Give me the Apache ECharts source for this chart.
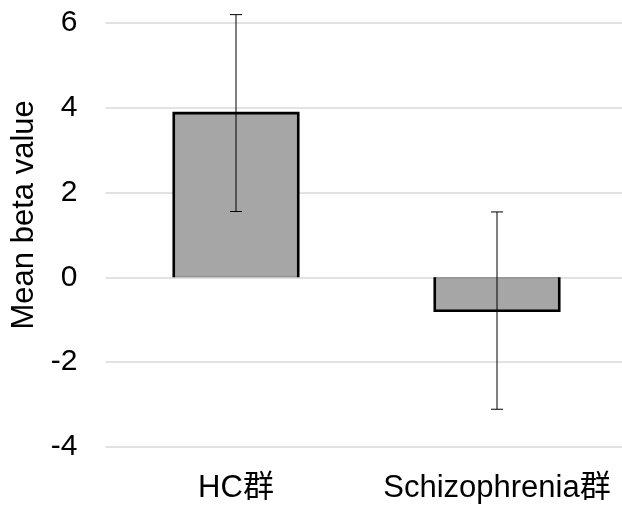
<!DOCTYPE html>
<html>
<head>
<meta charset="utf-8">
<script src="https://cdn.jsdelivr.net/npm/echarts@6/dist/echarts.min.js"></script>
<style>html,body{margin:0;padding:0;background:#fff}#c{width:622px;height:506px}</style>
</head>
<body>
<div id="c"></div>
<script>
const categories = ['HC群', 'Schizophrenia群'];
const means = [3.87, -0.79];
const errLow = [1.55, -3.11];
const errHigh = [6.19, 1.54];
const yTicks = [-4, -2, 0, 2, 4, 6];

const FONT = '"Liberation Sans", Arial, "Noto Sans CJK JP", sans-serif';
const BAR_FRAC = 0.477;

const chart = echarts.init(document.getElementById('c'), null, {renderer: 'canvas'});
chart.setOption({
  animation: false,
  backgroundColor: '#fff',
  grid: {left: 105.5, right: -5.5, top: 22.7, bottom: 59, containLabel: false, outerBoundsMode: 'none'},
  xAxis: {
    type: 'category',
    data: categories,
    axisLine: {show: false},
    axisTick: {show: false},
    axisLabel: {color: '#000', fontSize: 31, fontFamily: FONT, margin: 26, interval: 0, hideOverlap: false}
  },
  yAxis: {
    type: 'value',
    min: yTicks[0], max: yTicks[yTicks.length - 1], interval: 2,
    name: 'Mean beta value',
    nameLocation: 'middle',
    nameRotate: 90,
    nameGap: 66,
    nameTextStyle: {color: '#000', fontSize: 31, fontFamily: FONT, padding: [0, 0, 0, 40]},
    axisLine: {show: false},
    axisTick: {show: false},
    axisLabel: {color: '#000', fontSize: 30, fontFamily: FONT, margin: 28},
    splitLine: {show: true, lineStyle: {color: '#d9d9d9', width: 1.5}}
  },
  series: [
    {
      type: 'bar',
      data: means,
      barWidth: (BAR_FRAC * 100) + '%',
      itemStyle: {color: '#a6a6a6', borderColor: '#7f7f7f', borderWidth: 1},
      z: 2
    },
    {
      type: 'custom',
      data: means.map((v, i) => [i, v]),
      z: 3,
      renderItem: function (params, api) {
        const i = api.value(0), v = api.value(1);
        const base = api.coord([i, 0]);
        const top = api.coord([i, v]);
        const half = api.size([1, 0])[0] * BAR_FRAC / 2;
        const x = base[0];
        return {
          type: 'polyline',
          shape: {points: [[x - half, base[1]], [x - half, top[1]], [x + half, top[1]], [x + half, base[1]]]},
          style: {stroke: '#000', lineWidth: 2.6, fill: null, lineJoin: 'miter'}
        };
      }
    },
    {
      type: 'custom',
      data: errLow.map((lo, i) => [i, lo, errHigh[i]]),
      z: 4,
      renderItem: function (params, api) {
        const i = api.value(0);
        const lo = api.coord([i, api.value(1)]);
        const hi = api.coord([i, api.value(2)]);
        const x = lo[0], cap = 6;
        const st = {stroke: '#000', lineWidth: 1};
        return {
          type: 'group',
          children: [
            {type: 'line', shape: {x1: x, y1: lo[1], x2: x, y2: hi[1]}, style: st},
            {type: 'line', shape: {x1: x - cap, y1: lo[1], x2: x + cap, y2: lo[1]}, style: st},
            {type: 'line', shape: {x1: x - cap, y1: hi[1], x2: x + cap, y2: hi[1]}, style: st}
          ]
        };
      }
    }
  ]
});
</script>
</body>
</html>
